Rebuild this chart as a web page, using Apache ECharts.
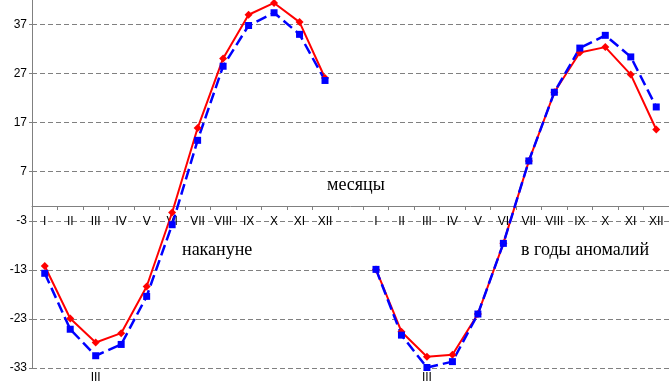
<!DOCTYPE html>
<html style="height: 100%">
<head>
  <meta charset="UTF-8">
  <title>Temperature by month</title>
  <script src="https://cdnjs.cloudflare.com/ajax/libs/echarts/6.0.0/echarts.min.js"></script>
  <style>
    body { margin: 0; height: 100%; background: #fff; }
    #main { width: 669px; height: 385px; }
  </style>
</head>
<body>
  <div id="main"></div>
  <script>
    const months = ['I', 'II', 'III', 'IV', 'V', 'VI', 'VII', 'VIII', 'IX', 'X', 'XI', 'XII'];
    const yTicks = [-33, -23, -13, -3, 7, 17, 27, 37];

    // накануне
    const redBefore  = [-12.2, -22.9, -27.8, -25.9, -16.4, -1.3, 15.9, 30.1, 39.0, 41.4, 37.5, 26.1];
    const blueBefore = [-13.7, -25.1, -30.5, -28.2, -18.4, -3.8, 13.4, 28.5, 36.8, 39.4, 35.0, 25.6];
    // в годы аномалий
    const redAnomaly  = [-12.9, -25.6, -30.7, -30.3, -22.0, -7.6, 9.2, 23.2, 31.3, 32.4, 26.8, 15.6];
    const blueAnomaly = [-12.9, -26.3, -32.9, -31.7, -22.0, -7.6, 9.2, 23.2, 32.2, 34.8, 30.4, 20.2];

    // category keys: two years of months with one empty slot between
    const cats = months.map(m => 'a' + m).concat(['gap'], months.map(m => 'b' + m));
    const red = redBefore.concat([null], redAnomaly);
    const blue = blueBefore.concat([null], blueAnomaly);

    const yMin = yTicks[0], yMax = 42;
    const gridTop = 0, gridBottom = 17, chartH = 385;
    // lift the month axis up to the zero line
    const zeroOffset = -Math.round((0 - yMin) / (yMax - yMin) * (chartH - gridTop - gridBottom));

    const chart = echarts.init(document.getElementById('main'));

    chart.setOption({
      animation: false,
      grid: { left: 32, right: 0, top: gridTop, bottom: gridBottom },
      xAxis: {
        type: 'category',
        data: cats,
        boundaryGap: true,
        position: 'bottom',
        offset: zeroOffset,
        axisLine: { onZero: false, lineStyle: { color: '#808080', width: 1 } },
        axisTick: { show: true, length: 4, lineStyle: { color: '#808080' } },
        axisLabel: {
          interval: 0,
          margin: 10,
          fontFamily: 'Arial',
          fontSize: 12,
          color: '#000',
          formatter: v => v === 'gap' ? '' : v.slice(1)
        },
        splitLine: { show: false }
      },
      yAxis: {
        type: 'value',
        min: yMin,
        max: yMax,
        interval: 10,
        axisLine: { show: true, lineStyle: { color: '#808080' } },
        axisTick: { show: true, length: 3, lineStyle: { color: '#808080' } },
        axisLabel: {
          margin: 5,
          fontFamily: 'Arial',
          fontSize: 12,
          color: '#000',
          showMaxLabel: false
        },
        splitLine: {
          show: true,
          showMaxLine: false,
          lineStyle: { color: '#808080', type: [5, 3], width: 1 }
        }
      },
      series: [
        {
          type: 'line',
          data: red,
          connectNulls: false,
          symbol: 'diamond',
          symbolSize: 8,
          itemStyle: { color: '#ff0000' },
          lineStyle: { color: '#ff0000', width: 2 }
        },
        {
          type: 'line',
          data: blue,
          connectNulls: false,
          symbol: 'rect',
          symbolSize: 7,
          itemStyle: { color: '#0000ff' },
          lineStyle: { color: '#0000ff', width: 2.5, type: [11, 5] }
        }
      ]
    });

    const textStyle = { fontFamily: 'Liberation Serif', fontSize: 18, fill: '#000' };
    const p1 = chart.convertToPixel({ xAxisIndex: 0 }, 'aIII');
    const p2 = chart.convertToPixel({ xAxisIndex: 0 }, 'bIII');
    chart.setOption({
      graphic: [
        { type: 'text', left: 327, top: 176, style: Object.assign({ text: 'месяцы' }, textStyle) },
        { type: 'text', left: 182, top: 241, style: Object.assign({ text: 'накануне' }, textStyle) },
        { type: 'text', left: 521, top: 241, style: Object.assign({ text: 'в годы аномалий' }, textStyle) },
        { type: 'text', x: p1, y: 372, style: { text: 'III', fontFamily: 'Arial', fontSize: 12, fill: '#000', align: 'center' } },
        { type: 'text', x: p2, y: 372, style: { text: 'III', fontFamily: 'Arial', fontSize: 12, fill: '#000', align: 'center' } }
      ]
    });

    window.addEventListener('resize', () => chart.resize());
  </script>
</body>
</html>
